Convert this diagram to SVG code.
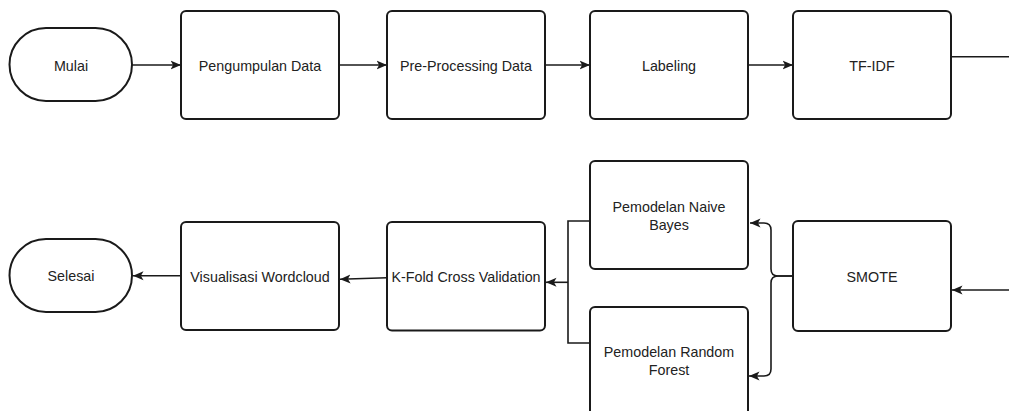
<svg xmlns="http://www.w3.org/2000/svg" width="1009" height="411" viewBox="0 0 1009 411">
<style>
.box{fill:#fff;stroke:#1a1a1a;stroke-width:2}
.lbl{font-family:"Liberation Sans",Arial,sans-serif;font-size:14.3px;fill:#222;text-anchor:middle}
.edge{fill:none;stroke:#1a1a1a;stroke-width:1.6}
.arr{marker-end:url(#ah)}
</style>
<defs>
<marker id="ah" markerUnits="userSpaceOnUse" markerWidth="12" markerHeight="10" refX="10.5" refY="5" orient="auto">
<path d="M0,0.5 L10.5,5 L0,9.5 L2.6,5 Z" fill="#1a1a1a"/>
</marker>
</defs>
<rect width="1009" height="411" fill="#fff"/>
<g id="connectors">
<path class="edge arr" d="M132,65 H181"/>
<path class="edge arr" d="M339,65 H387"/>
<path class="edge arr" d="M545,65 H590"/>
<path class="edge arr" d="M748,65 H793"/>
<path class="edge" d="M951,56.7 H1009"/>
<path class="edge arr" d="M1009,290 H952"/>
<path class="edge arr" d="M793,276 H778 Q771,276 771,269 V230 Q771,223 764,223 H750"/>
<path class="edge arr" d="M793,276 H778 Q771,276 771,283 V369 Q771,376 764,376 H749"/>
<path class="edge" d="M590,221 H568 V343 H590"/>
<path class="edge arr" d="M568,282.3 H546"/>
<path class="edge arr" d="M387,277.7 L340,279.3"/>
<path class="edge arr" d="M181,275.7 H133"/>
</g>
<g id="mulai">
<rect class="box" x="9.5" y="28" width="122.5" height="73" rx="36.5"/>
<text class="lbl" x="71" y="70.5">Mulai</text>
</g>
<g id="pengumpulan">
<rect class="box" x="181" y="11" width="158" height="108" rx="5"/>
<text class="lbl" x="260" y="70.5">Pengumpulan Data</text>
</g>
<g id="preprocessing">
<rect class="box" x="387" y="11" width="158" height="108" rx="5"/>
<text class="lbl" x="466" y="70.5">Pre-Processing Data</text>
</g>
<g id="labeling">
<rect class="box" x="590" y="11" width="158" height="108" rx="5"/>
<text class="lbl" x="669" y="70.5">Labeling</text>
</g>
<g id="tfidf">
<rect class="box" x="793" y="11" width="158" height="108" rx="5"/>
<text class="lbl" x="872" y="70.5">TF-IDF</text>
</g>
<g id="smote">
<rect class="box" x="793" y="221" width="158" height="110" rx="5"/>
<text class="lbl" x="872" y="281.5">SMOTE</text>
</g>
<g id="naivebayes">
<rect class="box" x="590" y="161" width="158" height="108" rx="5"/>
<text class="lbl" x="669" y="212">Pemodelan Naive</text>
<text class="lbl" x="669" y="230">Bayes</text>
</g>
<g id="randomforest">
<rect class="box" x="590" y="307" width="158" height="110" rx="5"/>
<text class="lbl" x="669" y="357">Pemodelan Random</text>
<text class="lbl" x="669" y="375">Forest</text>
</g>
<g id="kfold">
<rect class="box" x="387" y="222" width="158" height="108.5" rx="5"/>
<text class="lbl" x="466" y="281.5">K-Fold Cross Validation</text>
</g>
<g id="visualisasi">
<rect class="box" x="181" y="222" width="158" height="108" rx="5"/>
<text class="lbl" x="260" y="281.5">Visualisasi Wordcloud</text>
</g>
<g id="selesai">
<rect class="box" x="9.5" y="239" width="122.5" height="73" rx="36.5"/>
<text class="lbl" x="71" y="281">Selesai</text>
</g>
</svg>
